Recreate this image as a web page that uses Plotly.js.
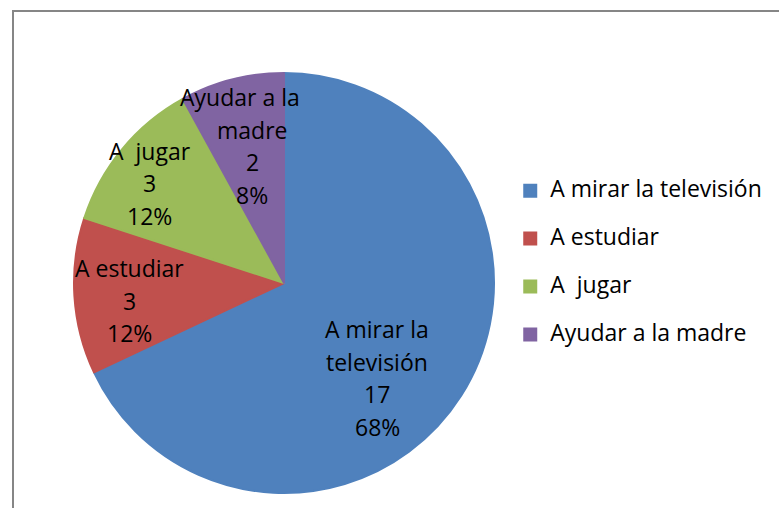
<!DOCTYPE html>
<html><head><meta charset="utf-8">
<script src="https://cdn.plot.ly/plotly-3.0.1.min.js"></script>
<style>html,body{margin:0;padding:0;background:#fff}</style>
</head><body><div id="chart" style="width:779px;height:508px"></div>
<script>
const categories = ["A mirar la televisión", "A estudiar", "A\u00a0 jugar", "Ayudar a la madre"];
const values = [17, 3, 3, 2];
const sliceLabelLines = [["A mirar la", "televisión"], ["A estudiar"], ["A\u00a0 jugar"], ["Ayudar a la\u00a0\u00a0\u00a0\u00a0", "madre"]];
const colors = ["#4F81BD", "#C0504D", "#9BBB59", "#8064A2"];
const labelRadius = [0.633, 0.743, 0.796, 0.670];
const labelAngleOffset = [13.2, -3.0, -2.9, 1.3];

const W = 779, H = 508;
const FONT = "'Open Sans', 'Noto Sans', sans-serif";
const FS = 23;
const LS = 32.5;
const dom = {x: [74 / W, 494 / W], y: [15 / H, 435 / H]};

const total = values.reduce((a, b) => a + b, 0);
const cx = (dom.x[0] + dom.x[1]) / 2 * W;
const cy = H - (dom.y[0] + dom.y[1]) / 2 * H;
const R = (dom.x[1] - dom.x[0]) * W / 2;

const annotations = [];
let cum = 0;
values.forEach((v, i) => {
  const mid = (cum + v / 2) / total * 2 * Math.PI + labelAngleOffset[i] * Math.PI / 180;
  cum += v;
  const px = cx + labelRadius[i] * R * Math.sin(mid);
  const py = cy - labelRadius[i] * R * Math.cos(mid);
  const lines = [...sliceLabelLines[i], String(v), Math.round(v / total * 100) + '%'];
  lines.forEach((t, k) => {
    annotations.push({
      xref: 'paper', yref: 'paper', x: px / W, y: 1 - py / H,
      text: t, showarrow: false, xanchor: 'center', yanchor: 'middle',
      yshift: ((lines.length - 1) / 2 - k) * LS,
      font: {family: FONT, size: FS, color: '#000'}
    });
  });
});

const legendLabels = categories.map(c => '<span style="font-size:' + FS + 'px;baseline-shift:7px">' + c + '</span>');

const trace = {
  type: 'pie',
  labels: legendLabels,
  values: values,
  sort: false,
  direction: 'clockwise',
  rotation: 0,
  textinfo: 'none',
  hoverinfo: 'skip',
  marker: {colors: colors, line: {width: 2, color: colors}},
  domain: dom
};

const layout = {
  width: W, height: H,
  margin: {l: 0, r: 0, t: 0, b: 0},
  paper_bgcolor: '#fff',
  showlegend: true,
  legend: {
    x: 0.655, xanchor: 'left', y: 0.483, yanchor: 'middle',
    font: {family: FONT, size: 34.6, color: '#000'},
    bgcolor: 'rgba(0,0,0,0)'
  },
  annotations: annotations,
  shapes: [{
    type: 'rect', xref: 'paper', yref: 'paper',
    x0: 13 / W, x1: 1.1, y0: -0.1, y1: (H - 11) / H,
    line: {color: '#868686', width: 2}
  }]
};

Plotly.newPlot('chart', [trace], layout, {displayModeBar: false, staticPlot: true});
</script>
</body></html>
